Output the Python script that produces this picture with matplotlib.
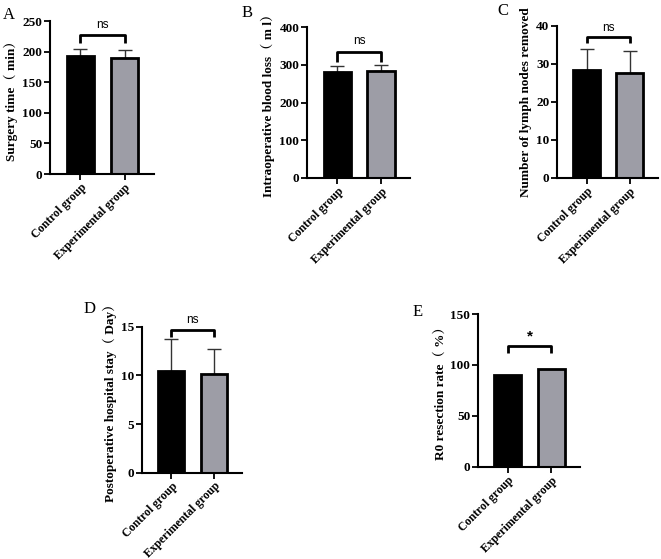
import matplotlib.pyplot as plt
import numpy as np

# data
groups = ['Control group', 'Experimental group']

surgery_time = [193, 190]
surgery_sd = [12, 12]

blood_loss = [280, 283]
blood_sd = [17, 16]

lymph_nodes = [28.5, 27.7]
lymph_sd = [5.4, 5.8]

hospital_stay = [10.45, 10.1]
stay_sd = [3.3, 2.6]

r0_rate = [90, 96.5]

serif = ['Liberation Serif', 'Noto Serif CJK SC', 'Noto Sans CJK SC', 'DejaVu Serif']
plt.rcParams['font.family'] = serif
plt.rcParams['font.weight'] = 'bold'

fig = plt.figure(figsize=(6.61, 5.59), dpi=100)

bar_colors = ['black', '#9d9da6']


def panel(rect, vals, sd, ylim, yticks, ylabel, letter, letter_xy, sig, bracket_y, arm):
    ax = fig.add_axes(rect)
    x = np.arange(len(vals))
    if sd is not None:
        ax.errorbar(x, vals, yerr=[np.zeros(len(sd)), sd], fmt='none',
                    ecolor='#333333', elinewidth=1.0, capsize=5, capthick=1.0, zorder=1)
    ax.bar(x, vals, width=0.62, color=bar_colors, edgecolor='black', linewidth=2, zorder=2)
    ax.set_xlim(-0.69, 1.66)
    ax.set_ylim(*ylim)
    ax.set_yticks(yticks)
    ax.set_xticks(x)
    ax.set_xticklabels(groups, rotation=45, ha='right', rotation_mode='anchor',
                       fontsize=8.5, fontweight='bold')
    for lab in ax.get_yticklabels():
        lab.set_fontsize(9.5)
        lab.set_fontweight('bold')
    ax.set_ylabel(ylabel, fontsize=9.5, fontweight='bold', labelpad=3)
    for s in ['top', 'right']:
        ax.spines[s].set_visible(False)
    for s in ['left', 'bottom']:
        ax.spines[s].set_linewidth(1.5)
    ax.tick_params(direction='out', length=4, width=1.3, pad=1.5)
    # significance bracket
    ax.plot([0, 0, 1, 1], [bracket_y - arm, bracket_y, bracket_y, bracket_y - arm],
            color='black', lw=2, solid_capstyle='butt', clip_on=False)
    if sig == 'ns':
        ax.text(0.5, bracket_y + arm * 0.5, 'ns', ha='center', va='bottom', fontsize=8.5,
                family='Liberation Sans', fontweight='normal', clip_on=False)
    else:
        ax.text(0.5, bracket_y + arm * 0.4, sig, ha='center', va='bottom', fontsize=11,
                family='Liberation Sans', fontweight='bold', clip_on=False)
    fig.text(letter_xy[0] / 661, 1 - letter_xy[1] / 559, letter, fontsize=12,
             fontweight='normal', ha='left', va='center')
    return ax


panel([0.0756, 0.6887, 0.157, 0.2737], surgery_time, surgery_sd, (0, 250),
      [0, 50, 100, 150, 200, 250], 'Surgery time（ min）', 'A', (3, 15), 'ns', 227, 13)
panel([0.4644, 0.6816, 0.1558, 0.270], blood_loss, blood_sd, (0, 400),
      [0, 100, 200, 300, 400], 'Intraoperative blood loss（ m l）', 'B', (242, 13), 'ns', 334, 26)
panel([0.8427, 0.6816, 0.1528, 0.272], lymph_nodes, lymph_sd, (0, 40),
      [0, 10, 20, 30, 40], 'Number of lymph nodes removed', 'C', (497, 11), 'ns', 37, 1.6)
panel([0.2148, 0.1544, 0.151, 0.261], hospital_stay, stay_sd, (0, 15),
      [0, 5, 10, 15], 'Postoperative hospital stay（ Day）', 'D', (84, 309), 'ns', 14.7, 0.8)
panel([0.7231, 0.1651, 0.154, 0.273], r0_rate, None, (0, 150),
      [0, 50, 100, 150], 'R0 resection rate（ %）', 'E', (413, 312), '*', 118.6, 6.5)

fig.savefig('out.png', dpi=100)
